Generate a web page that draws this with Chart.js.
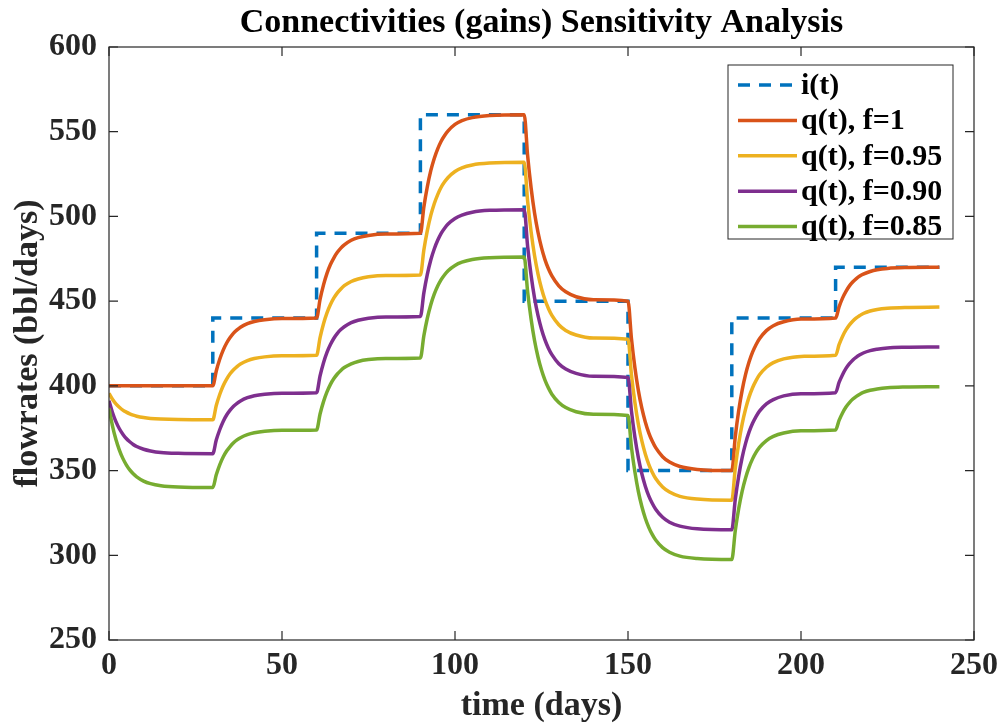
<!DOCTYPE html>
<html>

<head>
    <title>Connectivities Sensitivity</title>
    <script src="https://cdn.jsdelivr.net/npm/chart.js"></script>
    <style>
        body { margin: 0; background: #fff; }
    </style>
</head>

<body>
    <canvas id="gainChart" width="999" height="727"></canvas>

    <script>
        // sample times (days) shared by the q(t) curves
        var days = [
            0, 1, 2, 3, 4, 5, 6, 7, 8, 10, 12, 15, 20,
            30, 31, 32, 33, 34, 35, 36, 37, 38, 40, 42, 45, 50,
            60, 61, 62, 63, 64, 65, 66, 67, 68, 70, 72, 75, 80,
            90, 91, 92, 93, 94, 95, 96, 97, 98, 100, 102, 105, 110,
            120, 121, 122, 123, 124, 125, 126, 127, 128, 130, 132, 135, 140,
            150, 151, 152, 153, 154, 155, 156, 157, 158, 160, 162, 165, 170,
            180, 181, 182, 183, 184, 185, 186, 187, 188, 190, 192, 195, 200,
            210, 211, 212, 213, 214, 215, 216, 217, 218, 220, 222, 225, 230,
            240
        ];

        // injection rate i(t), piecewise constant
        var injDays = [0, 30, 60, 90, 120, 150, 180, 210, 240];
        var injRate = [400, 440, 490, 560, 450, 350, 440, 470, 470];

        // production q(t), f = 1
        var qF100 = [
            400, 400, 400, 400, 400, 400, 400, 400, 400, 400, 400, 400, 400,
            400, 408.8, 415.7, 421.1, 425.3, 428.5, 431.1, 433.0, 434.6, 436.7, 438.0, 439.0, 439.7,
            440, 451.0, 459.6, 466.4, 471.6, 475.6, 478.8, 481.3, 483.2, 485.9, 487.5, 488.8, 489.6,
            490, 505.5, 517.5, 527.0, 534.2, 539.9, 544.4, 547.8, 550.5, 554.3, 556.5, 558.3, 559.5,
            560, 535.7, 516.8, 501.9, 490.5, 481.6, 474.5, 469.1, 464.9, 459.0, 455.5, 452.6, 450.8,
            450, 427.9, 410.7, 397.2, 386.8, 378.7, 372.3, 367.4, 363.5, 358.2, 355.0, 352.4, 350.7,
            350, 369.9, 385.4, 397.5, 406.9, 414.2, 419.9, 424.3, 427.8, 432.6, 435.5, 437.8, 439.4,
            440, 446.6, 451.8, 455.8, 459.0, 461.4, 463.3, 464.8, 465.9, 467.5, 468.5, 469.3, 469.8,
            470
        ];

        // f = 0.95
        var qF095 = [
            395.6, 392.1, 389.4, 387.4, 385.7, 384.5, 383.5, 382.7, 382.1, 381.3, 380.8, 380.4, 380.1,
            380.0, 388.4, 394.9, 400.1, 404.0, 407.1, 409.5, 411.4, 412.9, 414.9, 416.1, 417.1, 417.7,
            418.0, 428.5, 436.7, 443.1, 448.0, 451.9, 454.9, 457.2, 459.1, 461.6, 463.1, 464.4, 465.2,
            465.5, 480.2, 491.6, 500.6, 507.5, 512.9, 517.2, 520.4, 523.0, 526.5, 528.7, 530.4, 531.5,
            532.0, 508.9, 490.9, 476.8, 466.0, 457.5, 450.8, 445.7, 441.6, 436.1, 432.7, 430.0, 428.2,
            427.5, 406.5, 390.2, 377.3, 367.5, 359.8, 353.7, 349.0, 345.3, 340.3, 337.3, 334.8, 333.2,
            332.5, 351.4, 366.1, 377.6, 386.5, 393.5, 398.9, 403.1, 406.5, 411.0, 413.7, 415.9, 417.4,
            418.0, 424.3, 429.2, 433.0, 436.0, 438.3, 440.1, 441.5, 442.7, 444.2, 445.1, 445.8, 446.3,
            446.5
        ];

        // f = 0.90
        var qF090 = [
            391.2, 384.3, 378.9, 374.7, 371.5, 368.9, 367.0, 365.4, 364.2, 362.6, 361.6, 360.7, 360.2,
            360.0, 368.0, 374.1, 379.0, 382.8, 385.7, 388.0, 389.7, 391.1, 393.0, 394.2, 395.1, 395.7,
            396.0, 405.9, 413.7, 419.8, 424.4, 428.1, 431.0, 433.2, 434.9, 437.3, 438.7, 439.9, 440.7,
            441.0, 454.9, 465.8, 474.3, 480.8, 485.9, 490.0, 493.0, 495.5, 498.8, 500.8, 502.5, 503.6,
            504.0, 482.1, 465.1, 451.7, 441.4, 433.4, 427.1, 422.2, 418.4, 413.1, 410.0, 407.4, 405.7,
            405.0, 385.1, 369.6, 357.5, 348.1, 340.8, 335.1, 330.7, 327.2, 322.4, 319.5, 317.2, 315.6,
            315.0, 332.9, 346.8, 357.8, 366.2, 372.8, 377.9, 381.9, 385.1, 389.4, 391.9, 394.1, 395.4,
            396.0, 402.0, 406.6, 410.3, 413.1, 415.3, 417.0, 418.3, 419.4, 420.8, 421.6, 422.4, 422.8,
            423.0
        ];

        // f = 0.85
        var qF085 = [
            386.7, 376.4, 368.3, 362.1, 357.2, 353.4, 350.4, 348.1, 346.3, 343.8, 342.3, 341.1, 340.3,
            340.0, 347.5, 353.4, 358.0, 361.5, 364.2, 366.4, 368.1, 369.4, 371.2, 372.3, 373.2, 373.8,
            374.0, 383.4, 390.7, 396.4, 400.9, 404.3, 407.0, 409.1, 410.8, 413.0, 414.4, 415.5, 416.2,
            416.5, 429.6, 439.9, 447.9, 454.1, 458.9, 462.7, 465.6, 468.0, 471.1, 473.0, 474.6, 475.6,
            476.0, 455.3, 439.3, 426.6, 416.9, 409.3, 403.4, 398.8, 395.1, 390.2, 387.2, 384.7, 383.2,
            382.5, 363.7, 349.1, 337.6, 328.8, 321.9, 316.5, 312.3, 309.0, 304.5, 301.8, 299.5, 298.1,
            297.5, 314.4, 327.6, 337.9, 345.8, 352.0, 356.9, 360.7, 363.7, 367.7, 370.2, 372.2, 373.5,
            374.0, 379.6, 384.0, 387.5, 390.1, 392.2, 393.8, 395.1, 396.1, 397.4, 398.2, 398.9, 399.3,
            399.5
        ];

        var chartTitle = 'Connectivities (gains) Sensitivity Analysis';

        var serif = '"Liberation Serif", "Times New Roman", serif';
        var axisColor = '#262626';

        function toPoints(xs, ys) {
            return xs.map(function (x, i) { return { x: x, y: ys[i] }; });
        }

        function curve(label, values, color, order) {
            return {
                label: label,
                data: toPoints(days, values),
                borderColor: color,
                borderWidth: 3.5,
                pointRadius: 0,
                cubicInterpolationMode: 'monotone',
                order: order
            };
        }

        // box around the plot, inward ticks on all sides, title over the axes and the legend inside them
        var matlabAxes = {
            id: 'matlabAxes',
            afterDraw: function (chart) {
                var ctx = chart.ctx;
                var area = chart.chartArea;
                var xs = chart.scales.x;
                var ys = chart.scales.y;
                var tick = 9;

                ctx.save();
                ctx.strokeStyle = axisColor;
                ctx.lineWidth = 1.2;
                ctx.strokeRect(area.left, area.top, area.right - area.left, area.bottom - area.top);

                ctx.beginPath();
                xs.ticks.forEach(function (t) {
                    var px = xs.getPixelForValue(t.value);
                    ctx.moveTo(px, area.bottom);
                    ctx.lineTo(px, area.bottom - tick);
                    ctx.moveTo(px, area.top);
                    ctx.lineTo(px, area.top + tick);
                });
                ys.ticks.forEach(function (t) {
                    var py = ys.getPixelForValue(t.value);
                    ctx.moveTo(area.left, py);
                    ctx.lineTo(area.left + tick, py);
                    ctx.moveTo(area.right, py);
                    ctx.lineTo(area.right - tick, py);
                });
                ctx.stroke();

                // title, centred over the axes
                ctx.fillStyle = '#000';
                ctx.font = 'bold 34px ' + serif;
                ctx.textAlign = 'center';
                ctx.textBaseline = 'middle';
                ctx.fillText(chartTitle, (area.left + area.right) / 2, 23);

                // legend
                var box = { left: 728, top: 65, right: 953, bottom: 239 };
                ctx.fillStyle = '#fff';
                ctx.fillRect(box.left, box.top, box.right - box.left, box.bottom - box.top);
                ctx.lineWidth = 1;
                ctx.strokeStyle = axisColor;
                ctx.strokeRect(box.left, box.top, box.right - box.left, box.bottom - box.top);

                ctx.font = 'bold 30px ' + serif;
                ctx.textBaseline = 'middle';
                ctx.textAlign = 'left';
                chart.data.datasets.forEach(function (ds, i) {
                    var y = 85 + i * 35.4;
                    ctx.beginPath();
                    ctx.setLineDash(ds.borderDash || []);
                    ctx.strokeStyle = ds.borderColor;
                    ctx.lineWidth = 3.5;
                    ctx.moveTo(738, y);
                    ctx.lineTo(797, y);
                    ctx.stroke();
                    ctx.setLineDash([]);
                    ctx.fillStyle = '#000';
                    ctx.fillText(ds.label, 801, y + 1);
                });
                ctx.restore();
            }
        };

        var ctx = document.getElementById('gainChart').getContext('2d');

        var gainChart = new Chart(ctx, {
            type: 'line',
            data: {
                datasets: [
                    {
                        label: 'i(t)',
                        data: toPoints(injDays, injRate),
                        borderColor: '#0072BD',
                        borderWidth: 3.5,
                        borderDash: [12, 9],
                        pointRadius: 0,
                        stepped: 'before',
                        order: 5
                    },
                    curve('q(t), f=1', qF100, '#D95319', 4),
                    curve('q(t), f=0.95', qF095, '#EDB120', 3),
                    curve('q(t), f=0.90', qF090, '#7E2F8E', 2),
                    curve('q(t), f=0.85', qF085, '#77AC30', 1)
                ]
            },
            options: {
                responsive: false,
                animation: false,
                devicePixelRatio: 1,
                layout: {
                    padding: { left: 0, right: 25, top: 47, bottom: 0 }
                },
                plugins: {
                    legend: { display: false },
                    tooltip: { enabled: false },
                    title: { display: false }
                },
                scales: {
                    x: {
                        type: 'linear',
                        min: 0,
                        max: 250,
                        grid: { display: false, drawTicks: false },
                        border: { display: false },
                        ticks: {
                            stepSize: 50,
                            color: axisColor,
                            padding: 7,
                            maxRotation: 0,
                            font: { family: serif, size: 32, weight: 'bold' }
                        },
                        title: {
                            display: true,
                            text: 'time (days)',
                            color: axisColor,
                            font: { family: serif, size: 34, weight: 'bold', lineHeight: 1 },
                            padding: { top: 0, bottom: 4 }
                        },
                        afterFit: function (scale) {
                            scale.height = 87;
                            // end labels may hang past the plot box
                            scale.paddingLeft = 0;
                            scale.paddingRight = 0;
                        }
                    },
                    y: {
                        min: 250,
                        max: 600,
                        grid: { display: false, drawTicks: false },
                        border: { display: false },
                        ticks: {
                            stepSize: 50,
                            autoSkip: false,
                            color: axisColor,
                            padding: 12,
                            font: { family: serif, size: 32, weight: 'bold' }
                        },
                        title: {
                            display: true,
                            text: 'flowrates (bbl/days)',
                            color: axisColor,
                            font: { family: serif, size: 34, weight: 'bold', lineHeight: 1 },
                            padding: { top: 11, bottom: 0 }
                        },
                        afterFit: function (scale) {
                            scale.width = 109;
                            scale.paddingTop = 0;
                            scale.paddingBottom = 0;
                        }
                    }
                }
            },
            plugins: [matlabAxes]
        });
    </script>
</body>

</html>
